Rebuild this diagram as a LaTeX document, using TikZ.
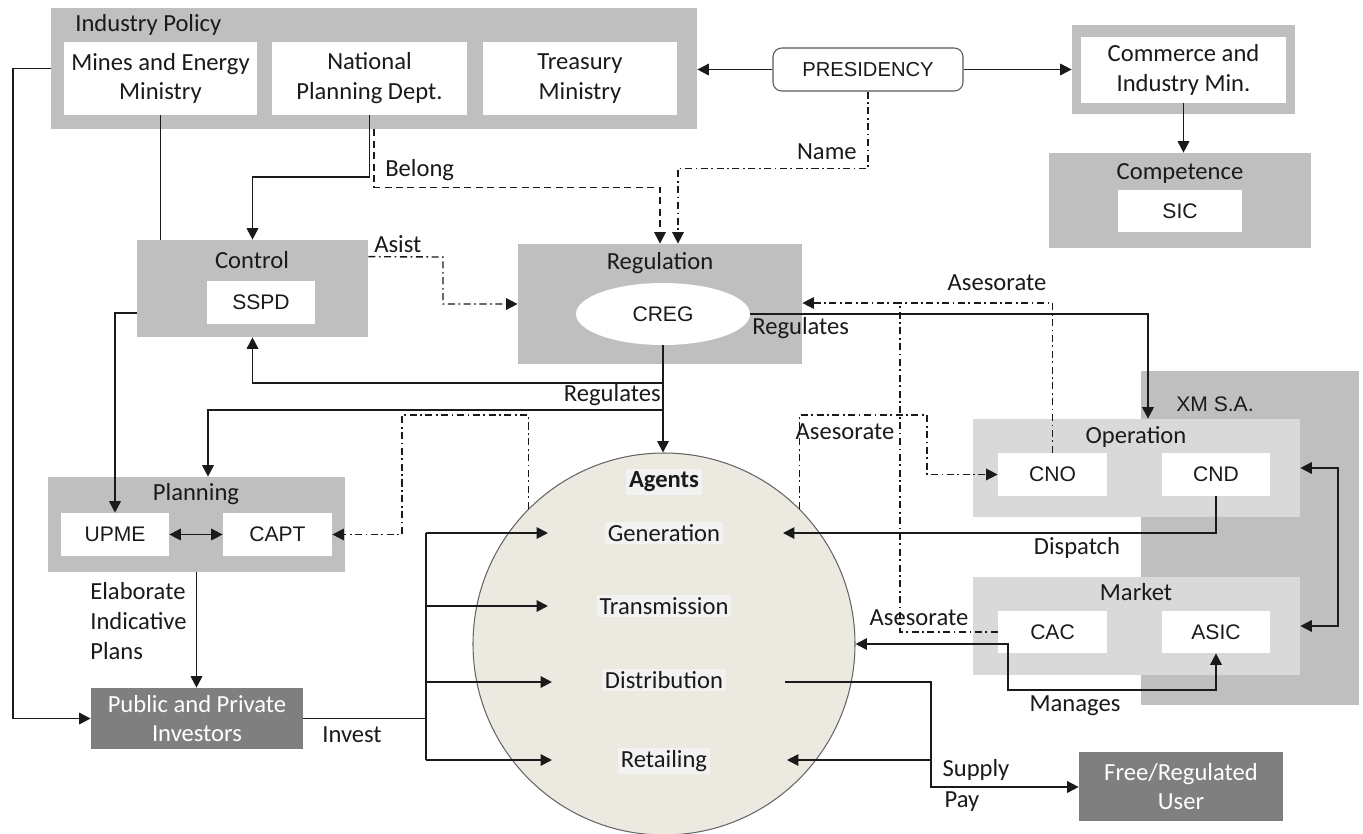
\documentclass[tikz,border=0pt]{standalone}
\usepackage{fontspec}
\setmainfont{Carlito}
\newfontfamily\arialf{Liberation Sans}
\usetikzlibrary{arrows.meta,shapes.geometric}
\definecolor{boxgray}{HTML}{BFBFBF}
\definecolor{litegray}{HTML}{D9D9D9}
\definecolor{darkgray2}{HTML}{7F7F7F}
\definecolor{agentfill}{HTML}{ECE9E0}
\definecolor{hl}{HTML}{F2F2F2}
\definecolor{ink}{HTML}{1A1A1A}
\tikzset{
  sz/.style 2 args={minimum width=#1*0.02cm, minimum height=#2*0.02cm},
  gbox/.style={fill=boxgray, inner sep=0pt},
  lbox/.style={fill=litegray, inner sep=0pt},
  wbox/.style={fill=white, inner sep=0pt, align=center},
  abox/.style={fill=white, inner sep=0pt, font=\arialf\fontsize{12}{14}\selectfont},
  dbox/.style={fill=darkgray2, inner sep=0pt, align=center, text=white},
  lbl/.style={inner sep=0pt},
  hlt/.style={fill=hl, inner sep=1.5pt},
  ln/.style={draw=ink, line width=1.1pt},
  arr/.style={ln, -{Triangle[length=6.5pt,width=6.5pt]}},
  arrb/.style={ln, {Triangle[length=6.5pt,width=6.5pt]}-{Triangle[length=6.5pt,width=6.5pt]}},
  dd/.style={draw=ink, line width=0.8pt, dash pattern=on 4pt off 2pt on 1pt off 2pt},
  ddarr/.style={dd, -{Triangle[length=6.5pt,width=6.5pt]}},
  dsharr/.style={draw=ink, line width=0.8pt, dash pattern=on 4pt off 2.5pt, -{Triangle[length=6.5pt,width=6.5pt]}},
}
\begin{document}
\begin{tikzpicture}[x=0.02cm,y=-0.02cm, font=\fontsize{14}{17}\selectfont, text=ink]
\useasboundingbox[fill=white] (0,0) rectangle (1363,833);

% ---------- Industry policy ----------
\node[gbox, sz={646}{121}] (ip) at (374,68.5) {};
\node[lbl, anchor=west] (iplbl) at (75,25) {Industry Policy};
\node[wbox, sz={193}{73}] (mines) at (160.5,78.5) {Mines and Energy\\Ministry};
\node[wbox, sz={195}{73}] (npd) at (369.5,78.5) {National\\Planning Dept.};
\node[wbox, sz={194}{73}] (tre) at (580,78.5) {Treasury\\Ministry};

% ---------- Presidency ----------
\node[draw=gray!70!black, line width=0.6pt, rounded corners=5pt, fill=white, sz={190}{43}, inner sep=0pt,
      font=\arialf\fontsize{11.5}{14}\selectfont] (pres) at (868,69.5) {PRESIDENCY};

% ---------- Commerce / Competence ----------
\node[gbox, sz={223}{89}] (cimo) at (1183.5,69.5) {};
\node[wbox, sz={205}{66}] (cim) at (1183.5,70) {Commerce and\\Industry Min.};
\node[gbox, sz={262}{95}] (comp) at (1180,200.5) {};
\node[lbl] (complbl) at (1180,173) {Competence};
\node[abox, sz={124}{42}] (sic) at (1180,211) {SIC};

% ---------- Control ----------
\node[gbox, sz={231}{97}] (ctrl) at (252.5,288.5) {};
\node[lbl] (ctrllbl) at (252,260) {Control};
\node[abox, sz={108}{43}] (sspd) at (261,302.5) {SSPD};

% ---------- Regulation ----------
\node[gbox, sz={284}{120}] (reg) at (660,304) {};
\node[lbl] (reglbl) at (660,263) {Regulation};
\node[ellipse, fill=white, inner sep=0pt, sz={174}{62}, font=\arialf\fontsize{12}{14}\selectfont] (creg) at (663,314) {CREG};

% ---------- Planning ----------
\node[gbox, sz={297}{95}] (plan) at (196.5,524.5) {};
\node[lbl] (planlbl) at (196,494) {Planning};
\node[abox, sz={108}{43}] (upme) at (115,534.5) {UPME};
\node[abox, sz={109}{43}] (capt) at (277.5,534.5) {CAPT};

% ---------- Investors ----------
\node[dbox, sz={212}{61}] (inv) at (197,718.5) {Public and Private\\Investors};

% ---------- XM ----------
\node[gbox, sz={218}{334}] (xm) at (1250,538) {};
\node[lbl, font=\arialf\fontsize{12}{14}\selectfont] (xmlbl) at (1215,404) {XM S.A.};
\node[lbox, sz={327}{98}] (op) at (1136.5,468) {};
\node[lbl] (oplbl) at (1136,437) {Operation};
\node[abox, sz={109}{43}] (cno) at (1052.5,474.5) {CNO};
\node[abox, sz={108}{43}] (cnd) at (1216,474.5) {CND};
\node[lbox, sz={327}{98}] (mkt) at (1136.5,626) {};
\node[lbl] (mktlbl) at (1136,592) {Market};
\node[abox, sz={109}{42}] (cac) at (1052.5,632) {CAC};
\node[abox, sz={108}{42}] (asic) at (1216,632) {ASIC};

% ---------- User ----------
\node[dbox, sz={204}{69}] (user) at (1181,786.5) {Free/Regulated\\User};

% ---------- Agents ----------
\node[circle, fill=agentfill, draw=gray!80!black, line width=0.6pt, inner sep=0pt, minimum size=382*0.02cm] (agents) at (664,644) {};
\node[hlt, font=\bfseries\fontsize{14}{17}\selectfont] (aglbl) at (664,482) {Agents};
\node[hlt] (gen) at (664,533) {Generation};
\node[hlt] (trans) at (664,606) {Transmission};
\node[hlt] (dist) at (664,680) {Distribution};
\node[hlt] (ret) at (664,761) {Retailing};

% ---------- coordinates ----------
\coordinate (j1) at (663,383);
\coordinate (j2) at (663,410);
\coordinate (as1) at (900,303);
\coordinate (ib) at (426,718.5);
\coordinate (ag1) at (548,533);
\coordinate (ag2) at (548,606);
\coordinate (ag3) at (552,682);
\coordinate (ag4) at (552,760);
\coordinate (dtip) at (783,533);
\coordinate (dstart) at (785,682);
\coordinate (rtip) at (787,760);
\coordinate (sp) at (931,760);

% ---------- connectors ----------
\draw[arr] (pres.west) -- (pres.west -| ip.east);
\draw[arr] (pres.east) -- (pres.east -| cimo.west);
\draw[arr] (cim.south) -- (cim.south |- comp.north);
\draw[ln] (mines.south) -- (mines.south |- ctrl.north);
\draw[arr] (npd.south) -- ++(0,62) -| (ctrl.north);
\draw[dsharr] (ip.south) -- ++(0,58) -| (reg.north);
\node[lbl, anchor=west] (belong) at (385,170) {Belong};
\draw[ddarr] (pres.south) -- ++(0,77) -| ([xshift=0.36cm]reg.north);
\node[lbl, anchor=east] (name) at (857,152) {Name};
\draw[ddarr] ([yshift=-0.34cm]ctrl.north east) -- (443,257) |- (reg.west);
\node[lbl, anchor=west] (asist) at (374,244) {Asist};

\draw[arr] (creg.south) -- (creg.south |- agents.north);
\draw[arr] (j1) -| (ctrl.south);
\draw[arr] (j2) -| ([xshift=0.23cm]plan.north);
\node[lbl, anchor=east] (regs1) at (661,395) {Regulates};

\draw[arr] (creg.east) -| ([xshift=0.23cm]op.north);
\node[lbl, anchor=west] (regs2) at (752,328) {Regulates};

\draw[dd] (cno.north) |- (as1);
\draw[ddarr] (cac.west) -| (as1) -- (as1 -| reg.east);
\node[lbl] (ases1) at (997,283) {Asesorate};
\node[lbl] (ases3) at (919,618) {Asesorate};

\draw[ddarr] (agents.45) |- (927,415) |- (cno.west);
\node[lbl] (ases2) at (845,432) {Asesorate};
\draw[ddarr] (agents.135) |- (402,415) |- (capt.east);

\draw[arrb] (upme.east) -- (capt.west);
\draw[arr] ([yshift=-0.49cm]ctrl.west) -| (upme.north);
\draw[arr] (plan.south) -- (plan.south |- inv.north);
\node[lbl, anchor=north west, align=left] (elab) at (90,582) {Elaborate\\Indicative\\Plans};
\draw[arr] (ip.west) -- (13,68.5) |- (inv.west);

\draw[ln] (inv.east) -- (ib);
\draw[ln] (426,533) -- (426,760);
\draw[arr] (426,533) -- (ag1);
\draw[arr] (426,606) -- (ag2);
\draw[arr] (426,682) -- (ag3);
\draw[arr] (426,760) -- (ag4);
\node[lbl] (invest) at (352,735) {Invest};

\draw[arr] (cnd.south) |- (dtip);
\node[lbl] (disp) at (1077,548) {Dispatch};
\draw[arrb] (op.east) -- ++(38,0) |- (mkt.east);
\draw[arrb] (agents.east) -| (1008,690) -| (asic.south);
\node[lbl] (manages) at (1075,706) {Manages};

\draw[arr] (dstart) -| (931,787) -- (user.west |- 931,787);
\draw[arr] (sp) -- (rtip);
\node[lbl] (supply) at (976,770) {Supply};
\node[lbl] (pay) at (962,802) {Pay};
\end{tikzpicture}
\end{document}
